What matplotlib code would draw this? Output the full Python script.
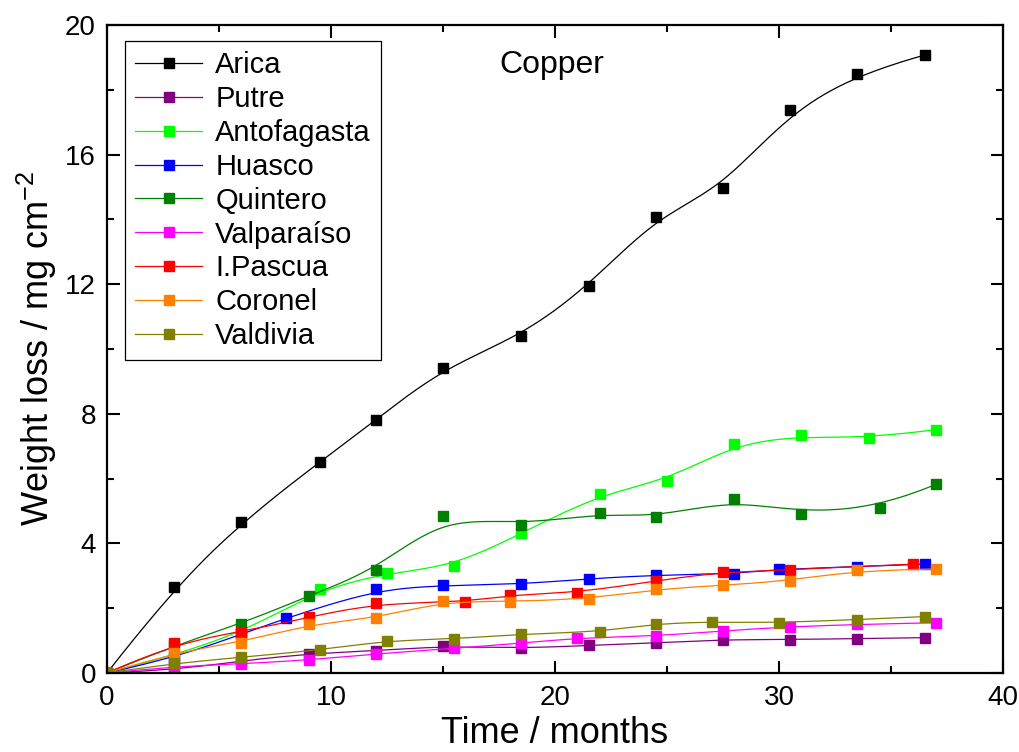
import numpy as np
import matplotlib.pyplot as plt
from matplotlib.lines import Line2D
from matplotlib.ticker import MultipleLocator

plt.rcParams['font.family'] = ['Liberation Sans', 'DejaVu Sans']

# weight loss of copper (mg cm^-2) vs exposure time (months)
arica_x = [0, 3, 6, 9.5, 12, 15, 18.5, 21.5, 24.5, 27.5, 30.5, 33.5, 36.5]
arica_y = [0, 2.65, 4.66, 6.51, 7.81, 9.41, 10.40, 11.94, 14.07, 14.97, 17.38, 18.49, 19.07]

putre_x = [0, 3, 6, 9, 12, 15, 18.5, 21.5, 24.5, 27.5, 30.5, 33.5, 36.5]
putre_y = [0, 0.09, 0.38, 0.59, 0.69, 0.83, 0.76, 0.85, 0.93, 1.03, 1.03, 1.06, 1.09]

antof_x = [0, 3, 6, 9.5, 12.5, 15.5, 18.5, 22, 25, 28, 31, 34, 37]
antof_y = [0, 0.55, 1.2, 2.59, 3.08, 3.30, 4.31, 5.52, 5.94, 7.06, 7.33, 7.24, 7.51]

huasco_x = [0, 3, 6, 8, 12, 15, 18.5, 21.5, 24.5, 28, 30, 33.5, 36.5]
huasco_y = [0, 0.46, 1.2, 1.69, 2.58, 2.70, 2.74, 2.91, 3.02, 3.06, 3.21, 3.28, 3.36]

quint_x = [0, 3, 6, 9, 12, 15, 18.5, 22, 24.5, 28, 31, 34.5, 37]
quint_y = [0, 0.85, 1.51, 2.38, 3.18, 4.83, 4.57, 4.93, 4.80, 5.36, 4.91, 5.10, 5.82]

valpa_x = [0, 3, 6, 9, 12, 15.5, 18.5, 21, 24.5, 27.5, 30.5, 33.5, 37]
valpa_y = [0, 0.2, 0.28, 0.40, 0.59, 0.76, 0.92, 1.08, 1.14, 1.30, 1.43, 1.50, 1.55]

pascua_x = [0, 3, 6, 9, 12, 16, 18, 21, 24.5, 27.5, 30.5, 36]
pascua_y = [0, 0.92, 1.26, 1.72, 2.15, 2.19, 2.41, 2.48, 2.84, 3.13, 3.18, 3.36]

coronel_x = [0, 3, 6, 9, 12, 15, 18, 21.5, 24.5, 27.5, 30.5, 33.5, 37]
coronel_y = [0, 0.63, 0.94, 1.50, 1.69, 2.21, 2.20, 2.29, 2.58, 2.71, 2.84, 3.17, 3.21]

valdi_x = [0, 3, 6, 9.5, 12.5, 15.5, 18.5, 22, 24.5, 27, 30, 33.5, 36.5]
valdi_y = [0, 0.30, 0.48, 0.71, 1.00, 1.05, 1.20, 1.27, 1.52, 1.58, 1.54, 1.65, 1.74]

names = ['Arica', 'Putre', 'Antofagasta', 'Huasco', 'Quintero',
         'Valparaíso', 'I.Pascua', 'Coronel', 'Valdivia']
colors = ['#000000', '#800080', '#00ff00', '#0000ff', '#008000',
          '#ff00ff', '#ff0000', '#ff8000', '#808000']
series = [(arica_x, arica_y), (putre_x, putre_y), (antof_x, antof_y),
          (huasco_x, huasco_y), (quint_x, quint_y), (valpa_x, valpa_y),
          (pascua_x, pascua_y), (coronel_x, coronel_y), (valdi_x, valdi_y)]


def bspline(px, py, num=400):
    # clamped cubic B-spline, data points used as control points
    P = np.column_stack([px, py]).astype(float)
    n = len(P)
    k = 3
    knots = np.concatenate([np.zeros(k), np.arange(n - k + 1), np.full(k, n - k)])
    t = np.linspace(0, n - k - 1e-9, num)
    B = np.zeros((num, len(knots) - 1))
    for i in range(len(knots) - 1):
        B[:, i] = (knots[i] <= t) & (t < knots[i + 1])
    for d in range(1, k + 1):
        Bn = np.zeros((num, len(knots) - 1 - d))
        for i in range(len(knots) - 1 - d):
            d1 = knots[i + d] - knots[i]
            d2 = knots[i + d + 1] - knots[i + 1]
            if d1 > 0:
                Bn[:, i] += (t - knots[i]) / d1 * B[:, i]
            if d2 > 0:
                Bn[:, i] += (knots[i + d + 1] - t) / d2 * B[:, i + 1]
        B = Bn
    c = B @ P
    return c[:, 0], c[:, 1]


fig = plt.figure(figsize=(10.2, 7.52), dpi=100)
ax = fig.add_axes([0.1049, 0.1051, 0.8784, 0.8617])

handles = []
for (x, y), name, col in zip(series, names, colors):
    cx, cy = bspline(x, y)
    ax.plot(cx, cy, color=col, lw=0.9)
    ax.plot(x, y, 's', color=col, ms=6.5, mec=col, lw=0)
    handles.append(Line2D([], [], color=col, lw=0.9, marker='s', ms=6.5))

ax.set_xlim(0, 40)
ax.set_ylim(0, 20)
ax.xaxis.set_major_locator(MultipleLocator(10))
ax.xaxis.set_minor_locator(MultipleLocator(5))
ax.yaxis.set_major_locator(MultipleLocator(4))
ax.yaxis.set_minor_locator(MultipleLocator(2))
ax.tick_params(which='both', direction='in', top=True, right=True, width=1.5,
               labelsize=20)
ax.tick_params(which='major', length=9)
ax.tick_params(axis='x', which='major', pad=9)
ax.tick_params(axis='y', which='major', pad=8)
ax.tick_params(which='minor', length=5)
for s in ax.spines.values():
    s.set_linewidth(1.6)

ax.set_xlabel('Time / months', fontsize=26, labelpad=3)
ax.set_ylabel('Weight loss / mg cm$^{\\mathregular{-2}}$', fontsize=26, labelpad=4)
ax.text(17.5, 18.75, 'Copper', fontsize=23, va='center')

leg = ax.legend(handles, names, loc='upper left', bbox_to_anchor=(0.02, 0.975),
                fontsize=21, frameon=True, fancybox=False, framealpha=1,
                edgecolor='black', handlelength=2.3, handletextpad=0.45,
                labelspacing=0.2, borderpad=0.35, borderaxespad=0)
leg.get_frame().set_linewidth(0.9)

fig.savefig('out.png', dpi=100)
